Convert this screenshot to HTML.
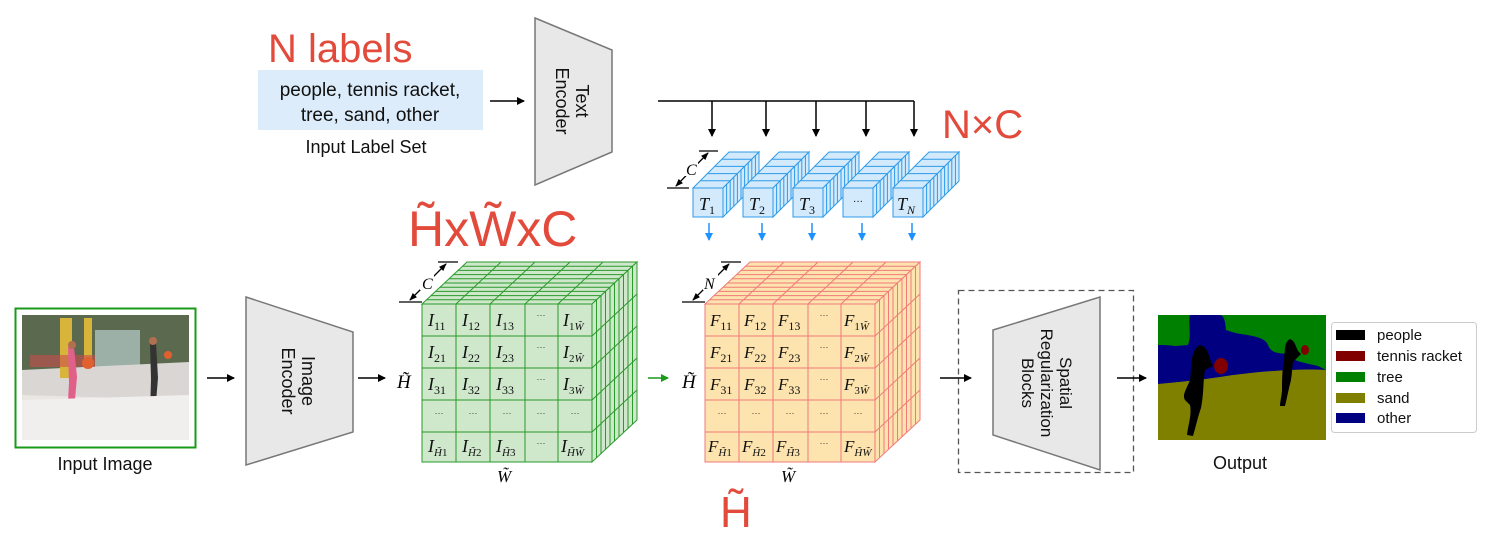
<!DOCTYPE html>
<html><head><meta charset="utf-8"><style>
html,body{margin:0;padding:0;background:#fff}
svg{display:block}
.s{font-family:"Liberation Sans",sans-serif}
.m{font-family:"Liberation Serif",serif;font-style:italic}
</style></head><body>
<svg width="1499" height="539" viewBox="0 0 1499 539" xmlns="http://www.w3.org/2000/svg">
<defs>
<marker id="ab" markerWidth="8" markerHeight="8" refX="7" refY="4" orient="auto" markerUnits="userSpaceOnUse"><path d="M0,0 L8,4 L0,8 z" fill="#000"/></marker>
<marker id="ag" markerWidth="8" markerHeight="8" refX="7" refY="4" orient="auto" markerUnits="userSpaceOnUse"><path d="M0,0 L8,4 L0,8 z" fill="#1a9a1a"/></marker>
<marker id="abl" markerWidth="8" markerHeight="8" refX="7" refY="4" orient="auto" markerUnits="userSpaceOnUse"><path d="M0,0 L8,4 L0,8 z" fill="#1e90ff"/></marker>
<marker id="dim" markerWidth="8" markerHeight="8" refX="7" refY="4" orient="auto" markerUnits="userSpaceOnUse"><path d="M0,1 L8,4 L0,7 z" fill="#000"/></marker>
</defs>

<!-- top left labels -->
<text x="268" y="62" class="s" font-size="40" fill="#e24a3b">N labels</text>
<rect x="258" y="70" width="225" height="60" fill="#dcecfa"/>
<text x="370" y="96" class="s" font-size="19" text-anchor="middle" fill="#111">people, tennis racket,</text>
<text x="370" y="121" class="s" font-size="19" text-anchor="middle" fill="#111">tree, sand, other</text>
<text x="366" y="153" class="s" font-size="18" text-anchor="middle" fill="#111">Input Label Set</text>
<line x1="490" y1="101" x2="524" y2="101" stroke="#000" stroke-width="1.5" marker-end="url(#ab)"/>

<!-- Text encoder -->
<polygon points="535,18 612,50 612,152 535,185" fill="#e8e8e8" stroke="#777" stroke-width="1.5"/>
<g transform="translate(573,101) rotate(90)" class="s" font-size="18" text-anchor="middle" fill="#111">
<text x="0" y="-3">Text</text><text x="0" y="17">Encoder</text></g>

<!-- fan-out lines -->
<g stroke="#000" stroke-width="1.5" fill="none">
<polyline points="658,101 914,101"/>
<line x1="712" y1="101" x2="712" y2="136" marker-end="url(#ab)"/>
<line x1="766" y1="101" x2="766" y2="136" marker-end="url(#ab)"/>
<line x1="816" y1="101" x2="816" y2="136" marker-end="url(#ab)"/>
<line x1="866" y1="101" x2="866" y2="136" marker-end="url(#ab)"/>
<line x1="914" y1="101" x2="914" y2="136" marker-end="url(#ab)"/>
</g>
<text x="942" y="138" class="s" font-size="40" fill="#e24a3b">N×C</text>

<!-- T blocks -->
<g id="tb" fill="#d2eafc" stroke="#2f9be8" stroke-width="1">
<g transform="matrix(1 0 3.6 -3.6 693 188)"><rect x="0" y="0" width="30" height="10" vector-effect="non-scaling-stroke"/>
<path d="M0,2H30M0,4H30M0,6H30M0,8H30" vector-effect="non-scaling-stroke"/></g>
<g transform="matrix(3.6 -3.6 0 1 723 188)"><rect x="0" y="0" width="10" height="29" vector-effect="non-scaling-stroke"/>
<path d="M1,0V29M2,0V29M3,0V29M4,0V29M5,0V29M6,0V29M7,0V29M8,0V29M9,0V29" vector-effect="non-scaling-stroke"/></g>
<rect x="693" y="188" width="30" height="29"/>
</g>
<use href="#tb" x="50"/><use href="#tb" x="100"/><use href="#tb" x="150"/><use href="#tb" x="200"/>
<g class="m" font-size="18" fill="#111">
<text x="699" y="210">T<tspan font-size="12" dy="4" font-style="normal">1</tspan></text>
<text x="749" y="210">T<tspan font-size="12" dy="4" font-style="normal">2</tspan></text>
<text x="799" y="210">T<tspan font-size="12" dy="4" font-style="normal">3</tspan></text>
<text x="858" y="205" font-size="10" text-anchor="middle" font-style="normal">···</text>
<text x="897" y="210">T<tspan font-size="12" dy="4">N</tspan></text>
</g>
<g stroke="#1e90ff" stroke-width="1.5">
<line x1="709" y1="223" x2="709" y2="240" marker-end="url(#abl)"/>
<line x1="762" y1="223" x2="762" y2="240" marker-end="url(#abl)"/>
<line x1="812" y1="223" x2="812" y2="240" marker-end="url(#abl)"/>
<line x1="862" y1="223" x2="862" y2="240" marker-end="url(#abl)"/>
<line x1="912" y1="223" x2="912" y2="240" marker-end="url(#abl)"/>
</g>
<!-- C dim for T -->
<g stroke="#000" stroke-width="1.2"><line x1="667" y1="188" x2="689" y2="188"/><line x1="699" y1="151" x2="718" y2="151"/>
<line x1="676" y1="186" x2="708" y2="153" marker-end="url(#dim)"/><line x1="708" y1="153" x2="676" y2="186" marker-end="url(#dim)"/></g>
<rect x="684" y="160" width="14" height="16" fill="#fff"/>
<text x="686" y="175" class="m" font-size="16">C</text>

<!-- red handwriting -->
<text x="408" y="246" class="s" font-size="50" fill="#e24a3b">H̃xW̃xC</text>
<text x="720" y="527" class="s" font-size="44" fill="#e24a3b">H̃</text>

<!-- input image -->
<rect x="15.5" y="308.5" width="180" height="139" fill="#fff" stroke="#1a9a1a" stroke-width="2"/>
<g>
<rect x="22" y="315" width="167" height="125" fill="#eae6e2"/>
<rect x="22" y="315" width="167" height="55" fill="#5b6a4e"/>
<rect x="95" y="330" width="45" height="45" fill="#9cb0a8"/>
<polygon points="22,370 189,362 189,400 22,395" fill="#d9d6d4"/>
<rect x="60" y="318" width="12" height="60" fill="#d8b43a"/>
<rect x="84" y="318" width="8" height="50" fill="#d8b43a"/>
<rect x="30" y="355" width="65" height="12" fill="#c94c4c" opacity="0.6"/>
<path d="M68,347 l6,0 3,30 -4,45 -6,0 2,-40z" fill="#e0608a"/>
<path d="M150,343 l6,0 2,35 -3,36 -5,0 1,-35z" fill="#333"/>
<circle cx="72" cy="345" r="4" fill="#b07050"/><circle cx="153" cy="341" r="4" fill="#b07050"/>
<circle cx="88" cy="363" r="6" fill="#e06030"/><circle cx="168" cy="355" r="4" fill="#e06030"/>
<polygon points="22,400 189,395 189,440 22,440" fill="#f1efee"/>
</g>
<text x="105" y="470" class="s" font-size="18" text-anchor="middle" fill="#111">Input Image</text>
<line x1="207" y1="378" x2="234" y2="378" stroke="#000" stroke-width="1.5" marker-end="url(#ab)"/>

<!-- Image encoder -->
<polygon points="246,297 353,332 353,432 246,465" fill="#e8e8e8" stroke="#777" stroke-width="1.5"/>
<g transform="translate(299,381) rotate(90)" class="s" font-size="18" text-anchor="middle" fill="#111">
<text x="0" y="-3">Image</text><text x="0" y="17">Encoder</text></g>
<line x1="358" y1="378" x2="385" y2="378" stroke="#000" stroke-width="1.5" marker-end="url(#ab)"/>
<text x="397" y="388" class="m" font-size="19">H̃</text>

<!-- Green cube -->
<g fill="#cfe8cc" stroke="#2a9a2a" stroke-width="1">
<g transform="matrix(1 0 4.5 -4.2 422 304)"><rect x="0" y="0" width="170" height="10" vector-effect="non-scaling-stroke"/>
<path d="M0,1H170M0,2H170M0,3H170M0,4H170M0,5H170M0,6H170M0,7H170M0,8H170M0,9H170M34,0V10M68,0V10M103,0V10M136,0V10" vector-effect="non-scaling-stroke"/></g>
<g transform="matrix(4.5 -4.2 0 1 592 304)"><rect x="0" y="0" width="10" height="158" vector-effect="non-scaling-stroke"/>
<path d="M1,0V158M2,0V158M3,0V158M4,0V158M5,0V158M6,0V158M7,0V158M8,0V158M9,0V158M0,32H10M0,64H10M0,96H10M0,128H10" vector-effect="non-scaling-stroke"/></g>
<rect x="422" y="304" width="170" height="158"/>
<path d="M456,304V462M490,304V462M525,304V462M558,304V462M422,336H592M422,368H592M422,400H592M422,432H592" fill="none"/>
</g>
<g class="m" font-size="18" fill="#111">
<text x="428" y="326">I<tspan font-size="12" dy="4" font-style="normal">11</tspan></text>
<text x="462" y="326">I<tspan font-size="12" dy="4" font-style="normal">12</tspan></text>
<text x="496" y="326">I<tspan font-size="12" dy="4" font-style="normal">13</tspan></text>
<text x="563" y="326">I<tspan font-size="11" dy="4" font-style="normal">1</tspan><tspan font-size="11">W̃</tspan></text>
<text x="428" y="358">I<tspan font-size="12" dy="4" font-style="normal">21</tspan></text>
<text x="462" y="358">I<tspan font-size="12" dy="4" font-style="normal">22</tspan></text>
<text x="496" y="358">I<tspan font-size="12" dy="4" font-style="normal">23</tspan></text>
<text x="563" y="358">I<tspan font-size="11" dy="4" font-style="normal">2</tspan><tspan font-size="11">W̃</tspan></text>
<text x="428" y="390">I<tspan font-size="12" dy="4" font-style="normal">31</tspan></text>
<text x="462" y="390">I<tspan font-size="12" dy="4" font-style="normal">32</tspan></text>
<text x="496" y="390">I<tspan font-size="12" dy="4" font-style="normal">33</tspan></text>
<text x="563" y="390">I<tspan font-size="11" dy="4" font-style="normal">3</tspan><tspan font-size="11">W̃</tspan></text>
<text x="428" y="452">I<tspan font-size="11" dy="4">H̃</tspan><tspan font-size="11" font-style="normal">1</tspan></text>
<text x="462" y="452">I<tspan font-size="11" dy="4">H̃</tspan><tspan font-size="11" font-style="normal">2</tspan></text>
<text x="496" y="452">I<tspan font-size="11" dy="4">H̃</tspan><tspan font-size="11" font-style="normal">3</tspan></text>
<text x="561" y="452">I<tspan font-size="11" dy="4">H̃W̃</tspan></text>
</g>
<g font-size="9" text-anchor="middle" fill="#333" class="s">
<text x="541" y="318">···</text><text x="541" y="350">···</text><text x="541" y="382">···</text><text x="541" y="446">···</text>
<text x="439" y="416">···</text><text x="473" y="416">···</text><text x="507" y="416">···</text><text x="541" y="416">···</text><text x="575" y="416">···</text>
</g>
<text x="497" y="482" class="m" font-size="17">W̃</text>
<g stroke="#000" stroke-width="1.2"><line x1="399" y1="302" x2="422" y2="302"/><line x1="438" y1="262" x2="458" y2="262"/>
<line x1="410" y1="300" x2="446" y2="264" marker-end="url(#dim)"/><line x1="446" y1="264" x2="410" y2="300" marker-end="url(#dim)"/></g>
<rect x="420" y="274" width="14" height="16" fill="#fff"/>
<text x="422" y="289" class="m" font-size="16">C</text>

<line x1="648" y1="378" x2="668" y2="378" stroke="#1a9a1a" stroke-width="1.5" marker-end="url(#ag)"/>
<text x="682" y="388" class="m" font-size="19">H̃</text>

<!-- Orange cube -->
<g fill="#fde3ad" stroke="#f07a7a" stroke-width="1">
<g transform="matrix(1 0 4.5 -4.2 705 304)"><rect x="0" y="0" width="170" height="10" vector-effect="non-scaling-stroke"/>
<path d="M0,1H170M0,2H170M0,3H170M0,4H170M0,5H170M0,6H170M0,7H170M0,8H170M0,9H170M34,0V10M68,0V10M103,0V10M136,0V10" vector-effect="non-scaling-stroke"/></g>
<g transform="matrix(4.5 -4.2 0 1 875 304)"><rect x="0" y="0" width="10" height="158" vector-effect="non-scaling-stroke"/>
<path d="M1,0V158M2,0V158M3,0V158M4,0V158M5,0V158M6,0V158M7,0V158M8,0V158M9,0V158M0,32H10M0,64H10M0,96H10M0,128H10" vector-effect="non-scaling-stroke"/></g>
<rect x="705" y="304" width="170" height="158"/>
<path d="M739,304V462M773,304V462M808,304V462M841,304V462M705,336H875M705,368H875M705,400H875M705,432H875" fill="none"/>
</g>
<g class="m" font-size="17" fill="#111">
<text x="710" y="326">F<tspan font-size="12" dy="4" font-style="normal">11</tspan></text>
<text x="744" y="326">F<tspan font-size="12" dy="4" font-style="normal">12</tspan></text>
<text x="778" y="326">F<tspan font-size="12" dy="4" font-style="normal">13</tspan></text>
<text x="844" y="326">F<tspan font-size="11" dy="4" font-style="normal">1</tspan><tspan font-size="11">W̃</tspan></text>
<text x="710" y="358">F<tspan font-size="12" dy="4" font-style="normal">21</tspan></text>
<text x="744" y="358">F<tspan font-size="12" dy="4" font-style="normal">22</tspan></text>
<text x="778" y="358">F<tspan font-size="12" dy="4" font-style="normal">23</tspan></text>
<text x="844" y="358">F<tspan font-size="11" dy="4" font-style="normal">2</tspan><tspan font-size="11">W̃</tspan></text>
<text x="710" y="390">F<tspan font-size="12" dy="4" font-style="normal">31</tspan></text>
<text x="744" y="390">F<tspan font-size="12" dy="4" font-style="normal">32</tspan></text>
<text x="778" y="390">F<tspan font-size="12" dy="4" font-style="normal">33</tspan></text>
<text x="844" y="390">F<tspan font-size="11" dy="4" font-style="normal">3</tspan><tspan font-size="11">W̃</tspan></text>
<text x="708" y="452">F<tspan font-size="11" dy="4">H̃</tspan><tspan font-size="11" font-style="normal">1</tspan></text>
<text x="742" y="452">F<tspan font-size="11" dy="4">H̃</tspan><tspan font-size="11" font-style="normal">2</tspan></text>
<text x="776" y="452">F<tspan font-size="11" dy="4">H̃</tspan><tspan font-size="11" font-style="normal">3</tspan></text>
<text x="844" y="452">F<tspan font-size="11" dy="4">H̃W̃</tspan></text>
</g>
<g font-size="9" text-anchor="middle" fill="#333" class="s">
<text x="824" y="318">···</text><text x="824" y="350">···</text><text x="824" y="382">···</text><text x="824" y="446">···</text>
<text x="722" y="416">···</text><text x="756" y="416">···</text><text x="790" y="416">···</text><text x="824" y="416">···</text><text x="858" y="416">···</text>
</g>
<text x="781" y="482" class="m" font-size="17">W̃</text>
<g stroke="#000" stroke-width="1.2"><line x1="682" y1="302" x2="705" y2="302"/><line x1="721" y1="262" x2="741" y2="262"/>
<line x1="693" y1="300" x2="729" y2="264" marker-end="url(#dim)"/><line x1="729" y1="264" x2="693" y2="300" marker-end="url(#dim)"/></g>
<rect x="703" y="274" width="15" height="16" fill="#fff"/>
<text x="704" y="289" class="m" font-size="16">N</text>

<!-- spatial regularization -->
<line x1="940" y1="378" x2="971" y2="378" stroke="#000" stroke-width="1.5" marker-end="url(#ab)"/>
<rect x="958.5" y="290.5" width="175" height="182" fill="none" stroke="#555" stroke-width="1.3" stroke-dasharray="6,4"/>
<polygon points="993,330 1100,297 1100,470 993,435" fill="#e8e8e8" stroke="#777" stroke-width="1.5"/>
<g transform="translate(1046,383) rotate(90)" class="s" font-size="17" text-anchor="middle" fill="#111">
<text x="0" y="-14">Spatial</text><text x="0" y="5">Regularization</text><text x="0" y="24">Blocks</text></g>
<line x1="1117" y1="378" x2="1146" y2="378" stroke="#000" stroke-width="1.5" marker-end="url(#ab)"/>

<!-- output segmentation -->
<g>
<rect x="1158" y="315" width="168" height="125" fill="#808000"/>
<path d="M1158,315 H1326 V370 C1300,368 1250,372 1220,377 C1200,380 1180,382 1158,384 Z" fill="#000080"/>
<path d="M1158,315 H1326 V370 L1318,366 C1300,362 1290,360 1290,355 C1280,352 1272,355 1268,345 C1265,335 1240,335 1232,332 L1226,330 C1225,320 1224,316 1220,315 H1190 C1188,325 1192,335 1188,345 L1175,346 C1168,345 1162,345 1158,345 Z" fill="#008000"/>
<path d="M1190,315 C1188,325 1192,335 1188,345 L1196,340 C1196,330 1194,320 1197,315Z" fill="#000080"/>
<path d="M1200,345 c-10,5 -8,20 -10,35 c-4,10 -8,15 -5,20 l5,5 c2,10 -2,20 -3,30 l6,1 c3,-10 5,-20 8,-28 c3,-15 2,-28 4,-38 l8,-4 l-2,-4 c-3,-10 -4,-15 -11,-17z" fill="#000"/>
<path d="M1290,339 c-6,3 -5,12 -6,22 c-2,10 -2,20 -2,28 c0,6 -2,12 -2,17 l5,0 c2,-8 3,-14 5,-22 c2,-6 2,-16 3,-22 l8,-8 l-3,-3 c-3,-6 -3,-10 -8,-12z" fill="#000"/>
<ellipse cx="1221" cy="366" rx="7" ry="8" fill="#800000"/>
<ellipse cx="1305" cy="350" rx="4" ry="5" fill="#800000"/>
</g>
<rect x="1331.5" y="322.5" width="145" height="110" rx="3" fill="#fff" stroke="#ccc"/>
<g class="s" font-size="15" fill="#111">
<rect x="1336" y="330" width="29" height="10" fill="#000"/><text x="1377" y="340">people</text>
<rect x="1336" y="351" width="29" height="10" fill="#800000"/><text x="1377" y="361">tennis racket</text>
<rect x="1336" y="372" width="29" height="10" fill="#008000"/><text x="1377" y="382">tree</text>
<rect x="1336" y="393" width="29" height="10" fill="#808000"/><text x="1377" y="403">sand</text>
<rect x="1336" y="413" width="29" height="10" fill="#000080"/><text x="1377" y="423">other</text>
</g>
<text x="1240" y="469" class="s" font-size="18" text-anchor="middle" fill="#111">Output</text>
</svg>
</body></html>
